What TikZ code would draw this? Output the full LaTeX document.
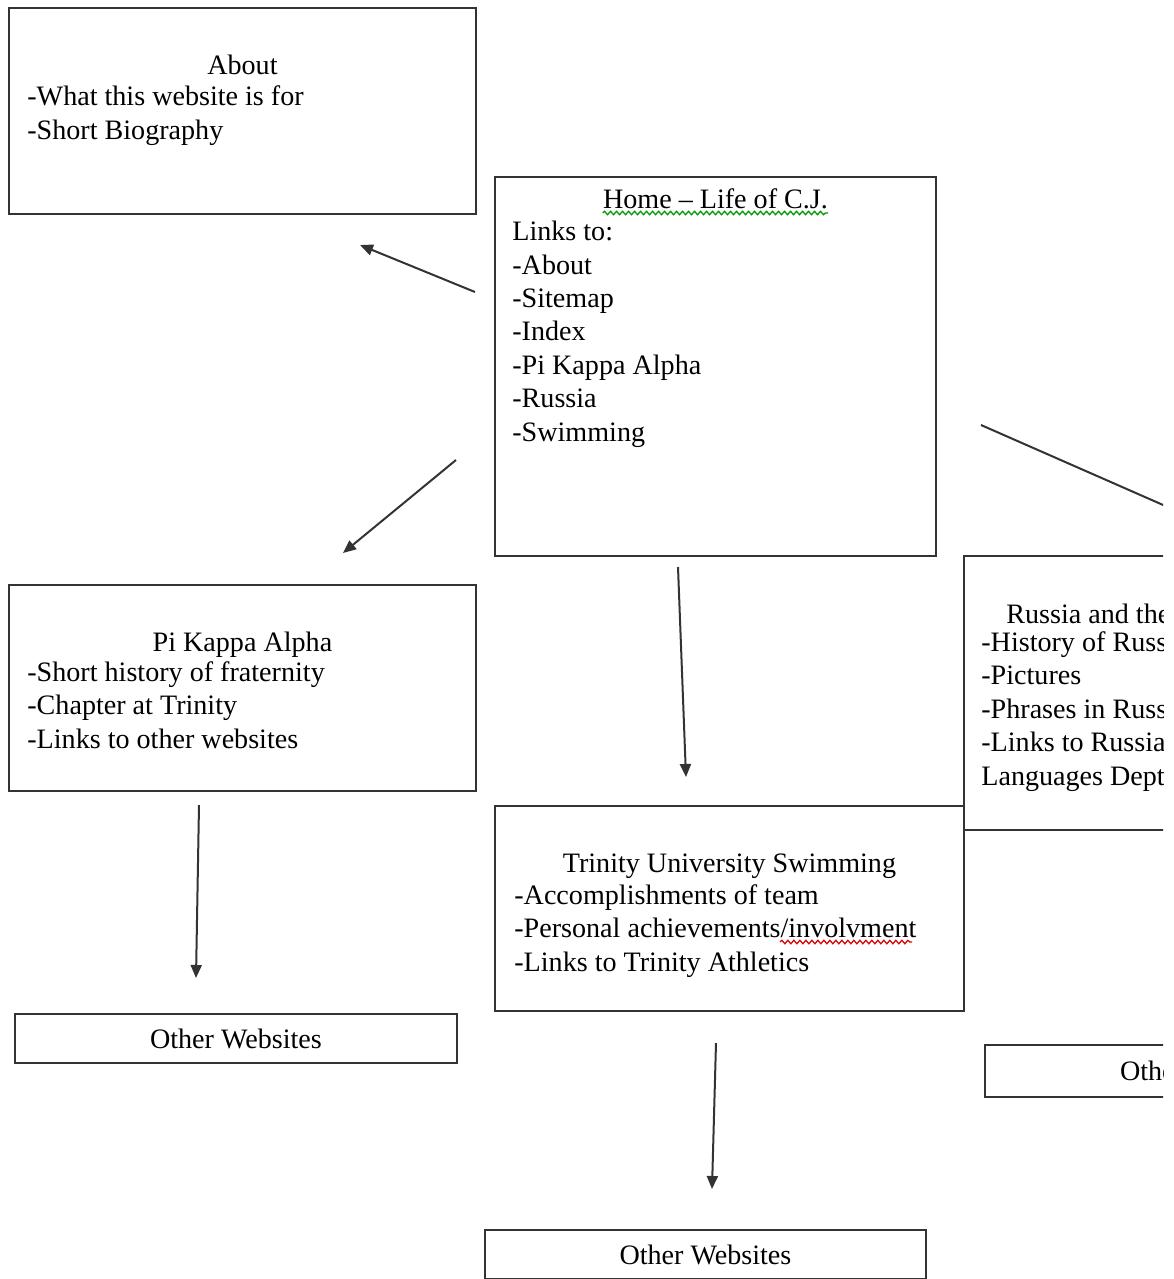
\documentclass[tikz,border=0pt]{standalone}
\usepackage{fontspec}
\setmainfont{Liberation Serif}
\usetikzlibrary{positioning,arrows.meta,decorations.pathmorphing}

\begin{document}
\begin{tikzpicture}[x=0.02cm, y=-0.02cm,
  box/.style={draw=black!80, line width=0.04cm, anchor=north west, inner sep=0},
  txt/.style={inner sep=0, font=\fontsize{16}{19}\selectfont, align=left},
  link/.style={-{Triangle[length=0.26cm,width=0.22cm]}, line width=0.04cm, black!80},
  squiggle/.style={decorate, decoration={snake, amplitude=0.035cm, segment length=0.12cm}, line width=0.025cm}]

\useasboundingbox (0,0) rectangle (1174,1279);
\clip (0,0) rectangle (1163,1279);

% Draw the boxes
\node[box, minimum width=9.34cm, minimum height=4.12cm] (about) at (8,7) {};
\node[box, minimum width=8.82cm, minimum height=7.58cm] (home) at (494,176) {};
\node[box, minimum width=9.34cm, minimum height=4.12cm] (pika) at (8,584) {};
\node[box, minimum width=9.38cm, minimum height=5.48cm] (russia) at (963,555) {};
\node[box, minimum width=9.38cm, minimum height=4.10cm] (swim) at (494,805) {};
\node[box, txt, minimum width=8.84cm, minimum height=0.98cm] (otherL) at (14,1013) {Other Websites};
\node[box, txt, minimum width=8.82cm, minimum height=0.98cm] (otherM) at (484,1229) {Other Websites};
\node[box, txt, minimum width=8.84cm, minimum height=1.04cm] (otherR) at (984,1044) {Other Websites};

% Titles and lists (a list's base is its last line)
\node[txt, anchor=base] (abouttitle) at ([shift={(0,67)}]about.north) {About};
\node[txt, anchor=base west] (aboutlist) at ([shift={(19,132)}]about.north west)
  {-What this website is for\\-Short Biography};

\node[txt, anchor=base] (hometitle) at ([shift={(0,32)}]home.north) {Home -- Life of C.J.};
\node[txt, anchor=base west] (homelist) at ([shift={(18,265)}]home.north west)
  {Links to:\\-About\\-Sitemap\\-Index\\-Pi Kappa Alpha\\-Russia\\-Swimming};

\node[txt, anchor=base] (pikatitle) at ([shift={(0,67)}]pika.north) {Pi Kappa Alpha};
\node[txt, anchor=base west] (pikalist) at ([shift={(19,164)}]pika.north west)
  {-Short history of fraternity\\-Chapter at Trinity\\-Links to other websites};

\node[txt, anchor=base] (swimtitle) at ([shift={(0,67)}]swim.north) {Trinity University Swimming};
\node[txt, anchor=base west] (swimlist) at ([shift={(20,166)}]swim.north west)
  {-Accomplishments of team\\-Personal achievements/involvment\\-Links to Trinity Athletics};

\node[txt, anchor=base west] (russiatitle) at ([shift={(43,68)}]russia.north west) {Russia and the Russian Language};
\node[txt, anchor=base west] (russialist) at ([shift={(18,230)}]russia.north west)
  {-History of Russia\\-Pictures\\-Phrases in Russian\\-Links to Russian\\Languages Dept.};

% Spell check marks
\draw[squiggle, green!60!black] ([shift={(0,5)}]hometitle.base west) -- ([shift={(0,5)}]hometitle.base east);
\coordinate (wavyL) at (780,942);
\coordinate (wavyR) at (912,942);
\draw[squiggle, red!85!black] (wavyL) -- (wavyR);

% Connectors
\coordinate (h2a) at (475,292);  \coordinate (toAbout) at (360,245);
\coordinate (h2p) at (456,460);  \coordinate (toPika) at (343,553);
\coordinate (h2s) at (678,567);  \coordinate (toSwim) at (686,777);
\coordinate (h2r) at (981,425);  \coordinate (toRussia) at (1195,519);
\coordinate (p2o) at (199,805);  \coordinate (toOtherL) at (196,978);
\coordinate (s2o) at (716,1043); \coordinate (toOtherM) at (712,1189);

\draw[link] (h2a) -- (toAbout);
\draw[link] (h2p) -- (toPika);
\draw[link] (h2s) -- (toSwim);
\draw[link] (h2r) -- (toRussia);
\draw[link] (p2o) -- (toOtherL);
\draw[link] (s2o) -- (toOtherM);

\end{tikzpicture}
\end{document}
